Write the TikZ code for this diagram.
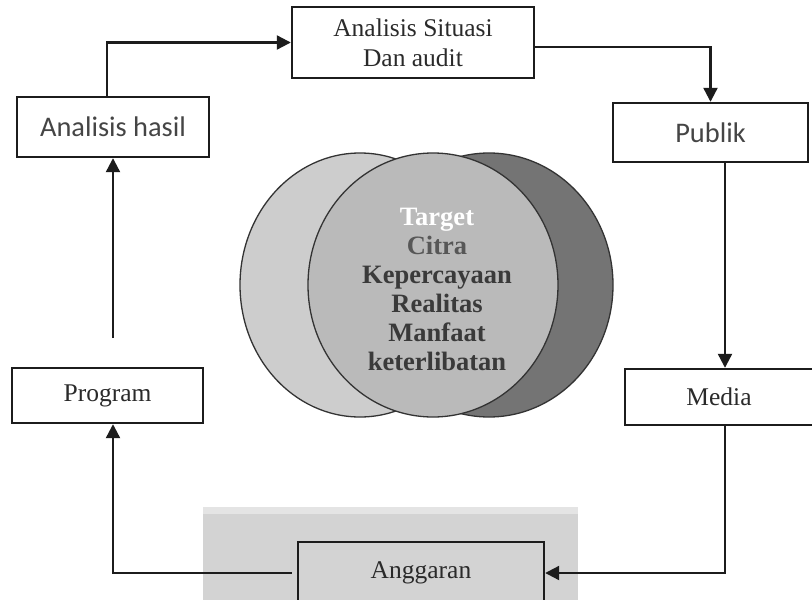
\documentclass[tikz,border=0pt]{standalone}
\usepackage{fontspec}
\setmainfont{Liberation Serif}
\newfontfamily\calib{Carlito}
\usetikzlibrary{arrows.meta}
\definecolor{lineclr}{HTML}{1C1C1C}
\definecolor{txtclr}{HTML}{2A2A2A}
\definecolor{sanstxt}{HTML}{454545}
\definecolor{leftc}{HTML}{CDCDCD}
\definecolor{midc}{HTML}{BABABA}
\definecolor{rightc}{HTML}{747474}
\definecolor{vennline}{HTML}{333333}
\definecolor{vtxt}{HTML}{3A3A3A}
\definecolor{bgbox}{HTML}{D3D3D3}
\tikzset{
  flowbox/.style={draw=lineclr, line width=2.4pt, inner sep=0pt, text=txtclr,
    font=\fontsize{25.5}{30}\selectfont, align=center},
  sansbox/.style={flowbox, text=sanstxt, font=\calib\fontsize{28.4}{32}\selectfont},
  conn/.style={draw=lineclr, line width=2.2pt},
  arr/.style={conn, -{Triangle[length=14pt,width=14pt]}},
  venn/.style={draw=vennline, line width=1.3pt}
}
\begin{document}
\begin{tikzpicture}[x=1pt,y=-1pt]
\clip (0,0) rectangle (812,600);
\fill[white] (0,0) rectangle (812,600);
% grey band behind Anggaran
\fill[bgbox!60] (203,507) rectangle (578,514);
\fill[bgbox] (203,514) rectangle (578,600);

% Venn ellipses
\filldraw[venn, fill=leftc] (360,285) ellipse [x radius=120, y radius=132];
\filldraw[venn, fill=rightc] (489,285) ellipse [x radius=124, y radius=132];
\filldraw[venn, fill=midc] (433,285) ellipse [x radius=125, y radius=132];
\node[align=center, font=\bfseries\fontsize{26.5}{29}\selectfont, text=vtxt, inner sep=0pt] (vt) at (437,289)
  {\textcolor{white}{Target}\\ \textcolor{vtxt!85}{Citra}\\ Kepercayaan\\ Realitas\\ Manfaat\\ keterlibatan};

% boxes
\node[flowbox, minimum width=242, minimum height=71] (as) at (413,42.5) {Analisis Situasi\\Dan audit};
\node[sansbox, minimum width=192, minimum height=60] (ah) at (113,127) {Analisis hasil};
\node[sansbox, minimum width=195, minimum height=59] (pub) at (710.5,132.5) {Publik};
\node[flowbox, minimum width=188, minimum height=56] (med) at (719,397) {Media};
\node[flowbox, minimum width=191, minimum height=55] (prog) at (107.5,395.5) {Program};
\node[flowbox, minimum width=246, minimum height=62] (ang) at (421,573) {\raisebox{5pt}{Anggaran}};

% coordinates for free ends / bends
\coordinate (c1) at (107,0);
\coordinate (c2) at (725,0);
\coordinate (c3) at (113,0);
\coordinate (p1) at (113,338);

% connectors
\draw[arr] (ah.north -| c1) |- (as.west);
\draw[arr] ([yshift=-4.5pt]as.east) -| (pub.north);
\draw[arr] (pub.south -| c2) -- (med.north -| c2);
\draw[arr] (med.south -| c2) |- (ang.east);
\draw[arr, shorten <=5pt] (ang.west) -| (prog.south -| c3);
\draw[arr] (p1) -- (ah.south -| p1);
\end{tikzpicture}
\end{document}
